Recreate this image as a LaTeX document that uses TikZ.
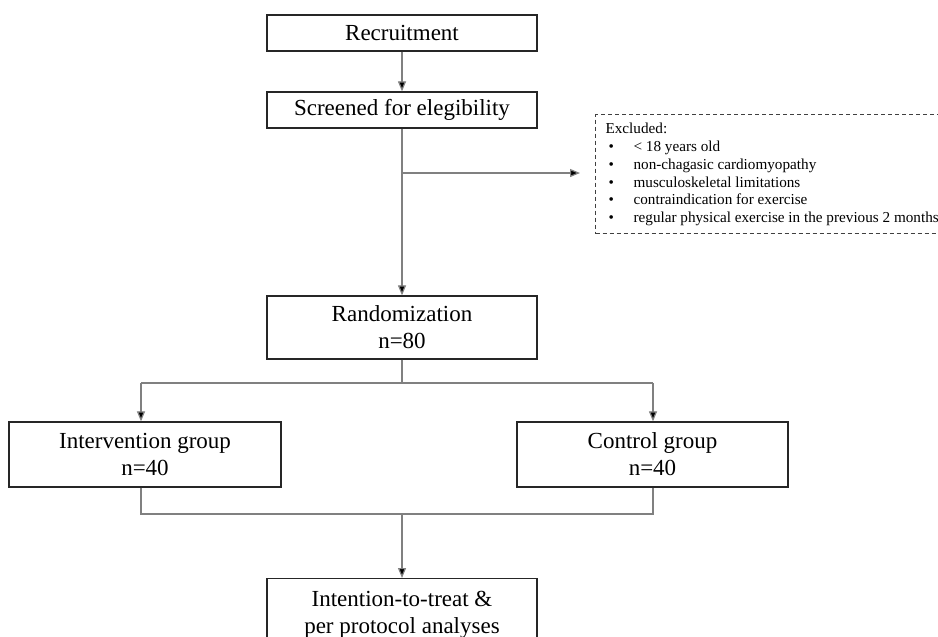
\documentclass[tikz,border=0pt]{standalone}
\usepackage{fontspec}
\setmainfont{Liberation Serif}
\usetikzlibrary{arrows.meta}
\begin{document}
\begin{tikzpicture}[x=1pt,y=-1pt,
  box/.style={draw=black!85,line width=1.3pt,fill=white,minimum width=270pt,inner sep=0pt,align=center,font=\fontsize{23}{27}\selectfont},
  conn/.style={draw=black!50,line width=1.2pt},
  arr/.style={conn,-{Triangle[length=10pt,width=8pt,fill=black]}},
  exclbox/.style={draw=black!75,line width=1.2pt,dash pattern=on 4pt off 3pt,anchor=north west,inner xsep=10pt,inner ysep=8.6pt,font=\fontsize{15.2}{17.8}\selectfont}
]
\useasboundingbox (0,0) rectangle (938,637);
\clip (0,0) rectangle (938,637);
\fill[white] (0,0) rectangle (938,637);

\node[box,minimum height=36pt] (rec) at (402,33) {Recruitment};
\node[box,minimum height=36pt] (scr) at (402,110) {Screened for elegibility};
\node[box,minimum height=63pt] (rand) at (402,327.5) {Randomization\\n=80};
\node[box,minimum width=272pt,minimum height=65pt] (int) at (145,454.5) {Intervention group\\n=40};
\node[box,minimum width=271pt,minimum height=65pt] (ctl) at (652.5,454.5) {Control group\\n=40};
\node[box,minimum height=80pt,anchor=north] (fin) at (402,578) {\parbox[c][80pt][t]{270pt}{\centering\rule{0pt}{28pt}Intention-to-treat \&\\per protocol analyses}};

\node[exclbox] (excl) at (595,114) {\parbox[c][101.8pt][t]{345pt}{\raggedright
Excluded:\\
\hspace*{3pt}\makebox[25pt][l]{•}< 18 years old\\
\hspace*{3pt}\makebox[25pt][l]{•}non-chagasic cardiomyopathy\\
\hspace*{3pt}\makebox[25pt][l]{•}musculoskeletal limitations\\
\hspace*{3pt}\makebox[25pt][l]{•}contraindication for exercise\\
\hspace*{3pt}\makebox[25pt][l]{•}regular physical exercise in the previous 2 months}};

\coordinate (br) at (402,173);
\coordinate (brend) at (580,173);
\coordinate (split) at (402,383);
\coordinate (splitL) at (141,383);
\coordinate (splitR) at (653,383);
\coordinate (joinL) at (141,514);
\coordinate (joinR) at (653,514);
\coordinate (join) at (402,514);

\draw[arr] (rec) -- (scr);
\draw[arr] (scr) -- (rand);
\draw[arr] (br) -- (brend);
\draw[conn] (rand) -- (split);
\draw[conn] (splitL) -- (splitR);
\draw[arr] (splitL) -- (splitL |- int.north);
\draw[arr] (splitR) -- (splitR |- ctl.north);
\draw[conn] (splitL |- int.south) -- (joinL) -- (joinR) -- (splitR |- ctl.south);
\draw[arr] (join) -- (fin);
\end{tikzpicture}
\end{document}
